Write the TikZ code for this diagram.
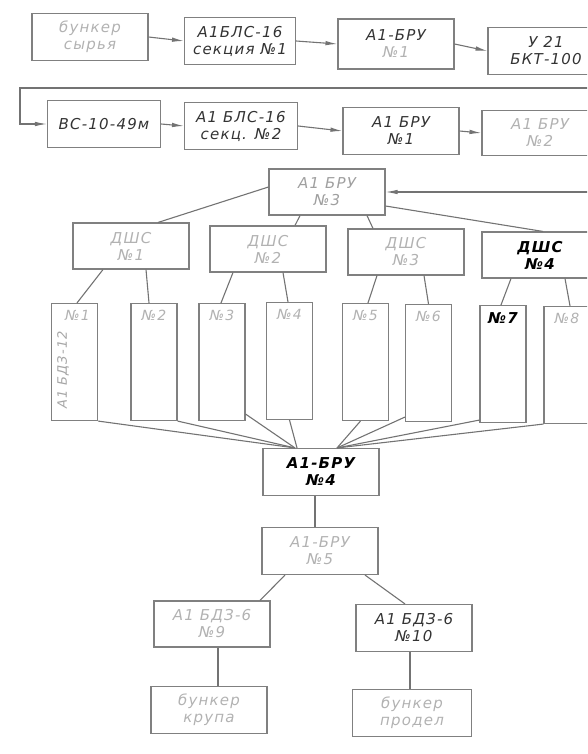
\documentclass[tikz,border=0pt]{standalone}
\usepackage{fontspec}
\setmainfont{DejaVu Sans}[LetterSpace=8]
\usetikzlibrary{arrows.meta}

\begin{document}
\begin{tikzpicture}[x=1pt, y=-1pt,
    box/.style={draw=black!50, line width=1.1pt, minimum width=116pt, minimum height=47pt,
      align=center, inner sep=1pt, font=\fontsize{15}{17}\selectfont\itshape, text=black!80},
    faint/.style={text=gray!60},
    strong/.style={text=black, font=\fontsize{15}{17}\selectfont\itshape\bfseries},
    bin/.style={draw=black!50, line width=1.1pt, minimum width=46pt, minimum height=117pt},
    binlabel/.style={font=\fontsize{14}{16}\selectfont\itshape, text=gray!60, inner sep=1pt},
    link/.style={draw=black!55, line width=1.1pt},
    arr/.style={link, -{Latex[length=12pt, width=4.5pt]}}]
    \clip (0,0) rectangle (587,754);

    % First line of machines
    \node[box, faint] (buns) at (90,37) {бункер\\сырья};
    \node[box, minimum width=111pt] (bls1) at (240,41) {А1БЛС-16\\секция №1};
    \node[box, minimum height=50pt] (bru1a) at (396,44) {А1-БРУ\\{\color{gray!60}№1}};
    \node[box] (u21) at (546,51) {У 21\\БКТ-100};

    % Second line of machines
    \node[box, minimum width=113pt] (vs) at (104,124) {ВС-10-49м};
    \node[box, minimum width=113pt] (bls2) at (241,126) {А1 БЛС-16\\секц. №2};
    \node[box] (bru1b) at (401,131) {А1 БРУ\\№1};
    \node[box, faint, minimum height=45pt] (bru2) at (540,133) {А1 БРУ\\№2};

    % Arrows between them
    \draw[arr] (buns.east) -- (bls1.west);
    \draw[arr] (bls1.east) -- (bru1a.west);
    \draw[arr] (bru1a.east) -- (u21.west);
    \coordinate (retin) at (600,88);
    \coordinate (retturn) at (20,88);
    \draw[arr] (retin) -- (retturn) |- (vs.west);
    \draw[arr] (vs.east) -- (bls2.west);
    \draw[arr] (bls2.east) -- (bru1b.west);
    \draw[arr] (bru1b.east) -- (bru2.west);

    % Distributing bin and the four DШС
    \node[box, minimum height=46pt, text=gray!75] (bru3) at (327,192) {А1 БРУ\\№3};
    \coordinate (bru3in) at (600,192);
    \draw[arr] (bru3in) -- (bru3.east);

    \node[box, faint, minimum height=46pt] (dshs1) at (131,246) {ДШС\\№1};
    \node[box, faint, minimum height=46pt] (dshs2) at (268,249) {ДШС\\№2};
    \node[box, faint, minimum height=46pt] (dshs3) at (406,252) {ДШС\\№3};
    \node[box, strong, minimum height=46pt] (dshs4) at (540,255) {ДШС\\№4};

    \draw[link] ([yshift=5pt]bru3.west) -- ([xshift=27pt]dshs1.north);
    \draw[link] ([xshift=-27pt]bru3.south) -- ([xshift=27pt]dshs2.north);
    \draw[link] ([xshift=40pt]bru3.south) -- ([xshift=-33pt]dshs3.north);
    \draw[link] ([yshift=-14pt]bru3.east) -- ([xshift=3pt]dshs4.north);

    % Bins
    \node[bin] (bin1) at (74.5,362) {};
    \node[bin] (bin2) at (154,362) {};
    \node[bin] (bin3) at (222,362) {};
    \node[bin] (bin4) at (289.5,361) {};
    \node[bin] (bin5) at (365.5,362) {};
    \node[bin] (bin6) at (428.5,363) {};
    \node[bin] (bin7) at (503,364) {};
    \node[bin] (bin8) at (567,365) {};

    \node[binlabel, anchor=north] (bin1l) at ([xshift=3pt, yshift=-6pt]bin1.north) {№1};
    \node[binlabel, anchor=north] (bin2l) at ([yshift=-6pt]bin2.north) {№2};
    \node[binlabel, anchor=north] (bin3l) at ([yshift=-6pt]bin3.north) {№3};
    \node[binlabel, anchor=north] (bin4l) at ([yshift=-6pt]bin4.north) {№4};
    \node[binlabel, anchor=north] (bin5l) at ([yshift=-6pt]bin5.north) {№5};
    \node[binlabel, anchor=north] (bin6l) at ([yshift=-6pt]bin6.north) {№6};
    \node[binlabel, anchor=north, text=black, font=\fontsize{15}{16}\selectfont\itshape\bfseries] (bin7l) at ([yshift=-6pt]bin7.north) {№7};
    \node[binlabel, anchor=north] (bin8l) at ([yshift=-6pt]bin8.north) {№8};
    \node[binlabel, rotate=90, text=gray!70, font=\fontsize{13}{15}\selectfont\itshape] (bin1t) at (63,370) {А1 БДЗ-12};

    \draw[link] ([xshift=-28pt]dshs1.south) -- ([xshift=2.5pt]bin1.north);
    \draw[link] ([xshift=15pt]dshs1.south) -- ([xshift=-5pt]bin2.north);
    \draw[link] ([xshift=-35pt]dshs2.south) -- ([xshift=-1pt]bin3.north);
    \draw[link] ([xshift=15pt]dshs2.south) -- ([xshift=-1.5pt]bin4.north);
    \draw[link] ([xshift=-29pt]dshs3.south) -- ([xshift=2.5pt]bin5.north);
    \draw[link] ([xshift=18pt]dshs3.south) -- (bin6.north);
    \draw[link] ([xshift=-29pt]dshs4.south) -- ([xshift=-2pt]bin7.north);
    \draw[link] ([xshift=25pt]dshs4.south) -- ([xshift=3pt]bin8.north);

    % Collecting bin
    \node[box, strong] (bru4) at (321,472) {А1-БРУ\\№4};

    \draw[link] (bin1.south east) -- ([xshift=-26pt]bru4.north);
    \draw[link] (bin2.south east) -- ([xshift=-26pt]bru4.north);
    \draw[link] ([yshift=7pt]bin3.south east) -- ([xshift=-26pt]bru4.north);
    \draw[link] (bin4.south) -- ([xshift=-24pt]bru4.north);
    \draw[link] ([xshift=-5pt]bin5.south) -- ([xshift=16pt]bru4.north);
    \draw[link] ([yshift=5pt]bin6.south west) -- ([xshift=16pt]bru4.north);
    \draw[link] ([yshift=3pt]bin7.south west) -- ([xshift=16pt]bru4.north);
    \draw[link] (bin8.south west) -- ([xshift=16pt]bru4.north);

    % Last bins and the outputs
    \node[box, faint] (bru5) at (320,551) {А1-БРУ\\№5};
    \node[box, faint, minimum height=46pt] (bdz9) at (212,624) {А1 БДЗ-6\\№9};
    \node[box] (bdz10) at (414,628) {А1 БДЗ-6\\№10};
    \node[box, faint] (krupa) at (209,710) {бункер\\крупа};
    \node[box, faint, minimum width=119pt] (prodel) at (412,713) {бункер\\продел};

    \draw[link] ([xshift=-6pt]bru4.south) -- ([xshift=-5pt]bru5.north);
    \draw[link] ([xshift=-35pt]bru5.south) -- ([xshift=48pt]bdz9.north);
    \draw[link] ([xshift=45pt]bru5.south) -- ([xshift=-9pt]bdz10.north);
    \draw[link] ([xshift=6pt]bdz9.south) -- ([xshift=9pt]krupa.north);
    \draw[link] ([xshift=-4pt]bdz10.south) -- ([xshift=-2pt]prodel.north);
\end{tikzpicture}
\end{document}
